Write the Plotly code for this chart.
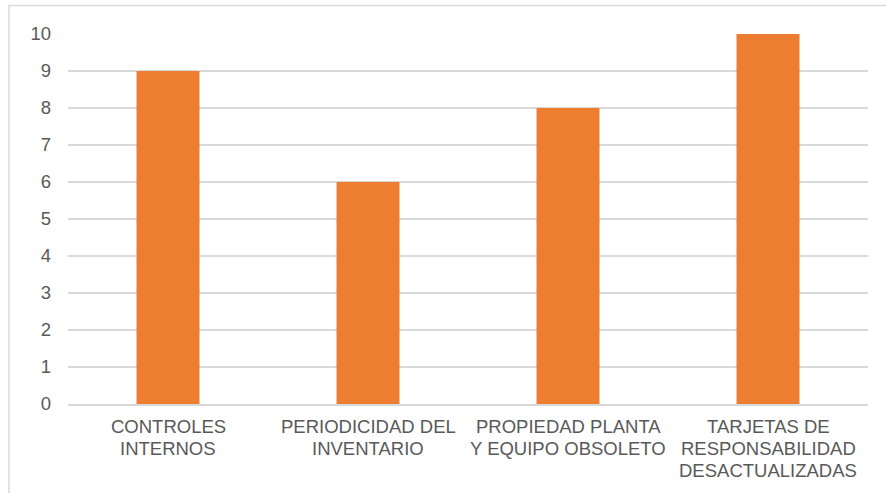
import plotly.graph_objects as go

categories = ["CONTROLES<br>INTERNOS", "PERIODICIDAD DEL<br>INVENTARIO",
              "PROPIEDAD PLANTA<br>Y EQUIPO OBSOLETO",
              "TARJETAS DE<br>RESPONSABILIDAD<br>DESACTUALIZADAS"]
values = [9, 6, 8, 10]
y_ticks = list(range(0, 11))

W, H = 886, 493
L, R, T, B = 68, 18, 33.5, 89
pw, ph = W - L - R, H - T - B
FS = 18.5
GREY = "#595959"

fig = go.Figure(go.Bar(x=categories, y=values, marker_color="#ED7D31",
                       marker_line_width=0, hoverinfo="skip"))

def px2paper_x(px):
    return (px - L) / pw

def px2paper_y(py):
    return (H - B - py) / ph

fig.add_shape(type="rect", xref="paper", yref="paper",
              x0=px2paper_x(9), x1=px2paper_x(892),
              y0=px2paper_y(500), y1=px2paper_y(5),
              line=dict(color="#D9D9D9", width=1.5), layer="below")

# category labels, one annotation per line for tighter line spacing
for cat in categories:
    for i, line in enumerate(cat.split("<br>")):
        fig.add_annotation(x=cat, y=0, xref="x", yref="y", text=line,
                           showarrow=False, xanchor="center", yanchor="middle",
                           yshift=-(22.5 + i * 21.75),
                           font=dict(size=FS, color=GREY))

fig.update_layout(
    width=W, height=H,
    margin=dict(l=L, r=R, t=T, b=B, autoexpand=False),
    paper_bgcolor="white", plot_bgcolor="white",
    bargap=0.685,
    showlegend=False,
    font=dict(family="Liberation Sans, Arial, sans-serif", size=FS, color=GREY),
    xaxis=dict(showgrid=False, showline=True, linecolor="#D9D9D9", linewidth=1.5,
               ticks="", showticklabels=False, automargin=False),
    yaxis=dict(range=[0, 10], tickvals=y_ticks, showgrid=True, gridcolor="#D9D9D9",
               gridwidth=1.5, zeroline=False, showline=False, ticks="",
               automargin=False,
               ticklabelstandoff=16, tickfont=dict(size=FS, color=GREY)),
)

fig.write_html("out.html", config={"displayModeBar": False},
               post_script="document.body.style.margin='0';")
